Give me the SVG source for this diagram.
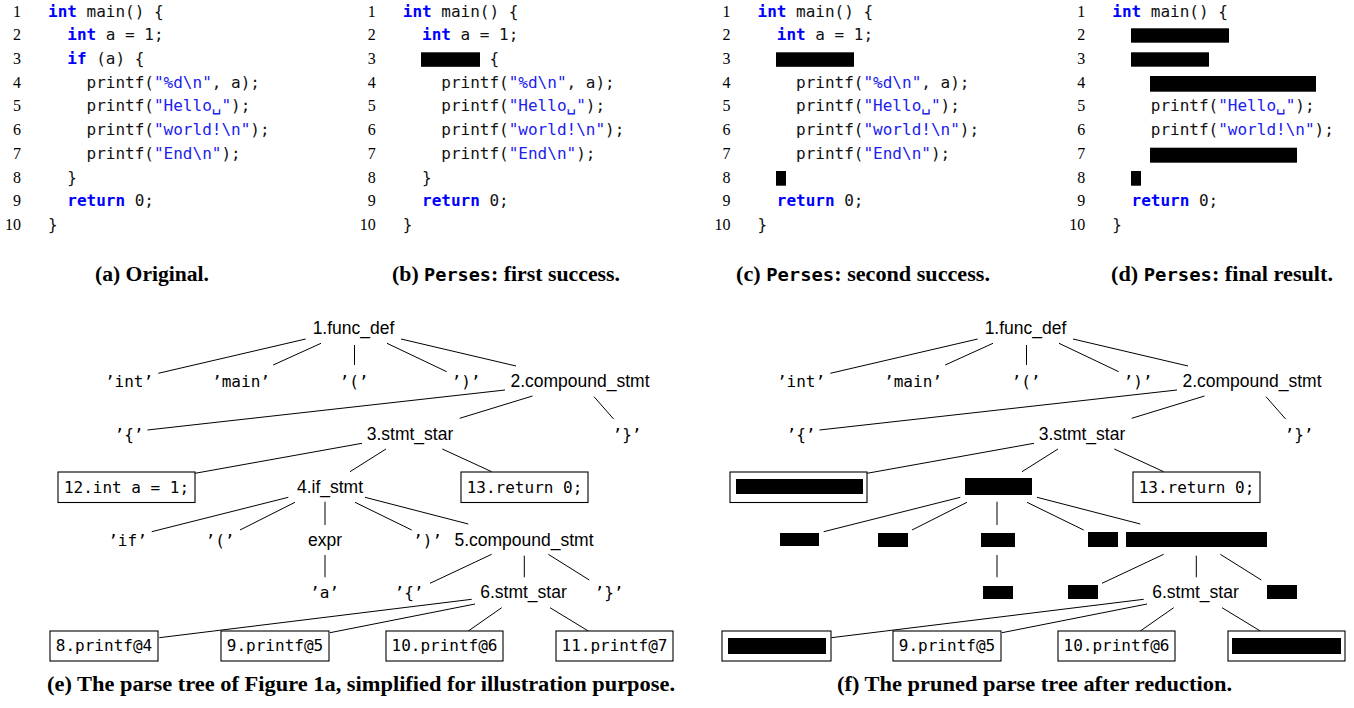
<svg xmlns="http://www.w3.org/2000/svg" width="1354" height="708" viewBox="0 0 1354 708">
<style>
.code{font-family:"DejaVu Sans Mono",monospace;font-size:16px;fill:#111;white-space:pre}
.kw{fill:#0000ff;font-weight:bold}
.str{fill:#2020ee}
.ln{font-family:"Liberation Serif",serif;font-size:16px;fill:#000;text-anchor:end}
.rd{fill:#000}
.cap{font-family:"Liberation Serif",serif;font-size:20px;font-weight:bold;fill:#000;text-anchor:middle}
.capm{font-family:"DejaVu Sans Mono",monospace;font-size:17px;font-weight:bold}
.tn{font-family:"Liberation Sans",Arial,sans-serif;font-size:17.5px;fill:#000;text-anchor:middle}
.tm{font-family:"DejaVu Sans Mono",monospace;font-size:16px;fill:#000;text-anchor:middle}
.bx{fill:#fff;stroke:#000;stroke-width:1.1}
.edge line{stroke:#000;stroke-width:1}
</style>

<!-- (a) Original -->
<g id="code-a">
<text class="ln" x="21" y="16.5">1</text><text class="ln" x="21" y="40.2">2</text><text class="ln" x="21" y="63.9">3</text><text class="ln" x="21" y="87.7">4</text><text class="ln" x="21" y="111.4">5</text><text class="ln" x="21" y="135.1">6</text><text class="ln" x="21" y="158.8">7</text><text class="ln" x="21" y="182.5">8</text><text class="ln" x="21" y="206.3">9</text><text class="ln" x="21" y="230">10</text>
<text class="code" x="48" y="16.5" xml:space="preserve"><tspan class="kw">int</tspan> main() {</text>
<text class="code" x="67.27" y="40.2" xml:space="preserve"><tspan class="kw">int</tspan> a = 1;</text>
<text class="code" x="67.27" y="63.9" xml:space="preserve"><tspan class="kw">if</tspan> (a) {</text>
<text class="code" x="86.54" y="87.7" xml:space="preserve">printf(<tspan class="str">"%d\n"</tspan>, a);</text>
<text class="code" x="86.54" y="111.4" xml:space="preserve">printf(<tspan class="str">"Hello␣"</tspan>);</text>
<text class="code" x="86.54" y="135.1" xml:space="preserve">printf(<tspan class="str">"world!\n"</tspan>);</text>
<text class="code" x="86.54" y="158.8" xml:space="preserve">printf(<tspan class="str">"End\n"</tspan>);</text>
<text class="code" x="67.27" y="182.5">}</text>
<text class="code" x="67.27" y="206.3" xml:space="preserve"><tspan class="kw">return</tspan> 0;</text>
<text class="code" x="48" y="230">}</text>
</g>

<!-- (b) first success -->
<g id="code-b">
<text class="ln" x="375.75" y="16.5">1</text><text class="ln" x="375.75" y="40.2">2</text><text class="ln" x="375.75" y="63.9">3</text><text class="ln" x="375.75" y="87.7">4</text><text class="ln" x="375.75" y="111.4">5</text><text class="ln" x="375.75" y="135.1">6</text><text class="ln" x="375.75" y="158.8">7</text><text class="ln" x="375.75" y="182.5">8</text><text class="ln" x="375.75" y="206.3">9</text><text class="ln" x="375.75" y="230">10</text>
<text class="code" x="402.75" y="16.5" xml:space="preserve"><tspan class="kw">int</tspan> main() {</text>
<text class="code" x="422.02" y="40.2" xml:space="preserve"><tspan class="kw">int</tspan> a = 1;</text>
<rect class="rd" x="421" y="52.3" width="59" height="14.5"/>
<text class="code" x="489.46" y="63.9">{</text>
<text class="code" x="441.29" y="87.7" xml:space="preserve">printf(<tspan class="str">"%d\n"</tspan>, a);</text>
<text class="code" x="441.29" y="111.4" xml:space="preserve">printf(<tspan class="str">"Hello␣"</tspan>);</text>
<text class="code" x="441.29" y="135.1" xml:space="preserve">printf(<tspan class="str">"world!\n"</tspan>);</text>
<text class="code" x="441.29" y="158.8" xml:space="preserve">printf(<tspan class="str">"End\n"</tspan>);</text>
<text class="code" x="422.02" y="182.5">}</text>
<text class="code" x="422.02" y="206.3" xml:space="preserve"><tspan class="kw">return</tspan> 0;</text>
<text class="code" x="402.75" y="230">}</text>
</g>

<!-- (c) second success -->
<g id="code-c">
<text class="ln" x="730.5" y="16.5">1</text><text class="ln" x="730.5" y="40.2">2</text><text class="ln" x="730.5" y="63.9">3</text><text class="ln" x="730.5" y="87.7">4</text><text class="ln" x="730.5" y="111.4">5</text><text class="ln" x="730.5" y="135.1">6</text><text class="ln" x="730.5" y="158.8">7</text><text class="ln" x="730.5" y="182.5">8</text><text class="ln" x="730.5" y="206.3">9</text><text class="ln" x="730.5" y="230">10</text>
<text class="code" x="757.5" y="16.5" xml:space="preserve"><tspan class="kw">int</tspan> main() {</text>
<text class="code" x="776.77" y="40.2" xml:space="preserve"><tspan class="kw">int</tspan> a = 1;</text>
<rect class="rd" x="776" y="52.3" width="78" height="14.5"/>
<text class="code" x="796.04" y="87.7" xml:space="preserve">printf(<tspan class="str">"%d\n"</tspan>, a);</text>
<text class="code" x="796.04" y="111.4" xml:space="preserve">printf(<tspan class="str">"Hello␣"</tspan>);</text>
<text class="code" x="796.04" y="135.1" xml:space="preserve">printf(<tspan class="str">"world!\n"</tspan>);</text>
<text class="code" x="796.04" y="158.8" xml:space="preserve">printf(<tspan class="str">"End\n"</tspan>);</text>
<rect class="rd" x="776" y="171" width="10" height="14.7"/>
<text class="code" x="776.77" y="206.3" xml:space="preserve"><tspan class="kw">return</tspan> 0;</text>
<text class="code" x="757.5" y="230">}</text>
</g>

<!-- (d) final result -->
<g id="code-d">
<text class="ln" x="1085.25" y="16.5">1</text><text class="ln" x="1085.25" y="40.2">2</text><text class="ln" x="1085.25" y="63.9">3</text><text class="ln" x="1085.25" y="87.7">4</text><text class="ln" x="1085.25" y="111.4">5</text><text class="ln" x="1085.25" y="135.1">6</text><text class="ln" x="1085.25" y="158.8">7</text><text class="ln" x="1085.25" y="182.5">8</text><text class="ln" x="1085.25" y="206.3">9</text><text class="ln" x="1085.25" y="230">10</text>
<text class="code" x="1112.25" y="16.5" xml:space="preserve"><tspan class="kw">int</tspan> main() {</text>
<rect class="rd" x="1131" y="28.3" width="98" height="14.4"/>
<rect class="rd" x="1131" y="52.3" width="78" height="14.4"/>
<rect class="rd" x="1150" y="76" width="166" height="15.7"/>
<text class="code" x="1150.79" y="111.4" xml:space="preserve">printf(<tspan class="str">"Hello␣"</tspan>);</text>
<text class="code" x="1150.79" y="135.1" xml:space="preserve">printf(<tspan class="str">"world!\n"</tspan>);</text>
<rect class="rd" x="1150" y="147.7" width="147" height="15"/>
<rect class="rd" x="1131" y="171" width="10" height="14.7"/>
<text class="code" x="1131.52" y="206.3" xml:space="preserve"><tspan class="kw">return</tspan> 0;</text>
<text class="code" x="1112.25" y="230">}</text>
</g>

<!-- captions -->
<g id="captions">
<text class="cap" x="152" y="281" textLength="114" lengthAdjust="spacingAndGlyphs">(a) Original.</text>
<text class="cap" x="506" y="281" textLength="228" lengthAdjust="spacingAndGlyphs" xml:space="preserve">(b) <tspan class="capm">Perses</tspan>: first success.</text>
<text class="cap" x="863" y="281" textLength="254" lengthAdjust="spacingAndGlyphs" xml:space="preserve">(c) <tspan class="capm">Perses</tspan>: second success.</text>
<text class="cap" x="1222" y="281" textLength="222" lengthAdjust="spacingAndGlyphs" xml:space="preserve">(d) <tspan class="capm">Perses</tspan>: final result.</text>
<text class="cap" x="361" y="691" textLength="628" lengthAdjust="spacingAndGlyphs">(e) The parse tree of Figure 1a, simplified for illustration purpose.</text>
<text class="cap" x="1034.5" y="691" textLength="395" lengthAdjust="spacingAndGlyphs">(f) The pruned parse tree after reduction.</text>
</g>

<!-- (e) parse tree -->
<g id="edges-e" class="edge">
<line x1="305.7" y1="339" x2="158.3" y2="373.3"/>
<line x1="321" y1="343.3" x2="273.2" y2="365"/>
<line x1="354.5" y1="345" x2="354.5" y2="365"/>
<line x1="387" y1="343.3" x2="446.7" y2="371.7"/>
<line x1="401" y1="339" x2="516" y2="366"/>
<line x1="505" y1="390" x2="147.4" y2="430"/>
<line x1="532.5" y1="396" x2="459.7" y2="418.3"/>
<line x1="594" y1="396.7" x2="613.6" y2="419"/>
<line x1="362" y1="443.3" x2="195" y2="473.3"/>
<line x1="386" y1="449" x2="350" y2="471.7"/>
<line x1="442.3" y1="449" x2="491.7" y2="471.7"/>
<line x1="288.3" y1="497.3" x2="151.7" y2="531.7"/>
<line x1="295" y1="502.3" x2="240" y2="530"/>
<line x1="325" y1="501.7" x2="325" y2="525"/>
<line x1="355" y1="502.3" x2="411.7" y2="530"/>
<line x1="365" y1="497.3" x2="468.3" y2="524"/>
<line x1="325" y1="555" x2="325" y2="577.3"/>
<line x1="491.7" y1="554.3" x2="430" y2="583.3"/>
<line x1="524.3" y1="555.7" x2="524.3" y2="577.3"/>
<line x1="548.3" y1="554.3" x2="589.3" y2="580"/>
<line x1="471.7" y1="599.3" x2="159.3" y2="637.7"/>
<line x1="475" y1="604" x2="330" y2="632.7"/>
<line x1="501.7" y1="607.7" x2="468.3" y2="631"/>
<line x1="550" y1="607.7" x2="588.3" y2="631"/>
</g>

<g id="tree-e">
<g id="e-n1"><text class="tn" x="353.5" y="334">1.func_def</text></g>
<g id="e-int"><text class="tm" x="129" y="387">’int’</text></g>
<g id="e-main"><text class="tm" x="241" y="387">’main’</text></g>
<g id="e-lp"><text class="tm" x="354" y="387">’(’</text></g>
<g id="e-rp"><text class="tm" x="466" y="387">’)’</text></g>
<g id="e-n2"><text class="tn" x="580" y="387">2.compound_stmt</text></g>
<g id="e-lb"><text class="tm" x="129" y="439.5">’{’</text></g>
<g id="e-n3"><text class="tn" x="410" y="439.5">3.stmt_star</text></g>
<g id="e-rb"><text class="tm" x="627" y="439.5">’}’</text></g>
<g id="e-n12"><rect class="bx" x="58" y="472" width="137" height="30.5"/><text class="tm" x="126.5" y="492.5" xml:space="preserve">12.int a = 1;</text></g>
<g id="e-n4"><text class="tn" x="330" y="492.5">4.if_stmt</text></g>
<g id="e-n13"><rect class="bx" x="461" y="472" width="127" height="30.5"/><text class="tm" x="524.5" y="492.5" xml:space="preserve">13.return 0;</text></g>
<g id="e-if"><text class="tm" x="127.5" y="545.5">’if’</text></g>
<g id="e-lp2"><text class="tm" x="220" y="545.5">’(’</text></g>
<g id="e-expr"><text class="tn" x="325" y="545.5">expr</text></g>
<g id="e-rp2"><text class="tm" x="427.5" y="545.5">’)’</text></g>
<g id="e-n5"><text class="tn" x="524" y="545.5">5.compound_stmt</text></g>
<g id="e-a"><text class="tm" x="324.5" y="598">’a’</text></g>
<g id="e-lb2"><text class="tm" x="409" y="598">’{’</text></g>
<g id="e-n6"><text class="tn" x="523.5" y="598">6.stmt_star</text></g>
<g id="e-rb2"><text class="tm" x="609" y="598">’}’</text></g>
<g id="e-n8"><rect class="bx" x="50" y="631" width="108" height="30"/><text class="tm" x="104" y="651">8.printf@4</text></g>
<g id="e-n9"><rect class="bx" x="221" y="631" width="108" height="30"/><text class="tm" x="275" y="651">9.printf@5</text></g>
<g id="e-n10"><rect class="bx" x="386" y="631" width="117" height="30"/><text class="tm" x="444.5" y="651">10.printf@6</text></g>
<g id="e-n11"><rect class="bx" x="556" y="631" width="117" height="30"/><text class="tm" x="614.5" y="651">11.printf@7</text></g>
</g>

<!-- (f) pruned parse tree -->
<g id="edges-f" class="edge" transform="translate(672,0)">
<line x1="305.7" y1="339" x2="158.3" y2="373.3"/>
<line x1="321" y1="343.3" x2="273.2" y2="365"/>
<line x1="354.5" y1="345" x2="354.5" y2="365"/>
<line x1="387" y1="343.3" x2="446.7" y2="371.7"/>
<line x1="401" y1="339" x2="516" y2="366"/>
<line x1="505" y1="390" x2="147.4" y2="430"/>
<line x1="532.5" y1="396" x2="459.7" y2="418.3"/>
<line x1="594" y1="396.7" x2="613.6" y2="419"/>
<line x1="362" y1="443.3" x2="195" y2="473.3"/>
<line x1="386" y1="449" x2="350" y2="471.7"/>
<line x1="442.3" y1="449" x2="491.7" y2="471.7"/>
<line x1="288.3" y1="497.3" x2="151.7" y2="531.7"/>
<line x1="295" y1="502.3" x2="240" y2="530"/>
<line x1="325" y1="501.7" x2="325" y2="525"/>
<line x1="355" y1="502.3" x2="411.7" y2="530"/>
<line x1="365" y1="497.3" x2="468.3" y2="524"/>
<line x1="325" y1="555" x2="325" y2="577.3"/>
<line x1="491.7" y1="554.3" x2="430" y2="583.3"/>
<line x1="524.3" y1="555.7" x2="524.3" y2="577.3"/>
<line x1="548.3" y1="554.3" x2="589.3" y2="580"/>
<line x1="471.7" y1="599.3" x2="159.3" y2="637.7"/>
<line x1="475" y1="604" x2="330" y2="632.7"/>
<line x1="501.7" y1="607.7" x2="468.3" y2="631"/>
<line x1="550" y1="607.7" x2="588.3" y2="631"/>
</g>

<g id="tree-f" transform="translate(672,0)">
<g id="f-n1"><text class="tn" x="353.5" y="334">1.func_def</text></g>
<g id="f-int"><text class="tm" x="129" y="387">’int’</text></g>
<g id="f-main"><text class="tm" x="241" y="387">’main’</text></g>
<g id="f-lp"><text class="tm" x="354" y="387">’(’</text></g>
<g id="f-rp"><text class="tm" x="466" y="387">’)’</text></g>
<g id="f-n2"><text class="tn" x="580" y="387">2.compound_stmt</text></g>
<g id="f-lb"><text class="tm" x="129" y="439.5">’{’</text></g>
<g id="f-n3"><text class="tn" x="410" y="439.5">3.stmt_star</text></g>
<g id="f-rb"><text class="tm" x="627" y="439.5">’}’</text></g>
<g id="f-n12"><rect class="bx" x="58" y="472" width="137" height="30.5"/><rect class="rd" x="64" y="479" width="127" height="15"/></g>
<g id="f-n4"><rect class="rd" x="293" y="478" width="67" height="17"/></g>
<g id="f-n13"><rect class="bx" x="461" y="472" width="127" height="30.5"/><text class="tm" x="524.5" y="492.5" xml:space="preserve">13.return 0;</text></g>
<g id="f-if"><rect class="rd" x="108" y="533" width="39" height="13"/></g>
<g id="f-lp2"><rect class="rd" x="206" y="533" width="30" height="14"/></g>
<g id="f-expr"><rect class="rd" x="309" y="533" width="34" height="14"/></g>
<g id="f-rp2"><rect class="rd" x="416" y="532" width="30" height="15"/></g>
<g id="f-n5"><rect class="rd" x="454" y="532" width="141" height="15"/></g>
<g id="f-a"><rect class="rd" x="311" y="586" width="30" height="13"/></g>
<g id="f-lb2"><rect class="rd" x="396" y="585" width="30" height="14"/></g>
<g id="f-n6"><text class="tn" x="523.5" y="598">6.stmt_star</text></g>
<g id="f-rb2"><rect class="rd" x="595" y="585" width="30" height="14"/></g>
<g id="f-n8"><rect class="bx" x="50" y="631" width="109" height="30"/><rect class="rd" x="56" y="638" width="98" height="16"/></g>
<g id="f-n9"><rect class="bx" x="221" y="631" width="108" height="30"/><text class="tm" x="275" y="651">9.printf@5</text></g>
<g id="f-n10"><rect class="bx" x="386" y="631" width="117" height="30"/><text class="tm" x="444.5" y="651">10.printf@6</text></g>
<g id="f-n11"><rect class="bx" x="556" y="631" width="117" height="30"/><rect class="rd" x="560" y="638" width="109" height="16"/></g>
</g>
</svg>
